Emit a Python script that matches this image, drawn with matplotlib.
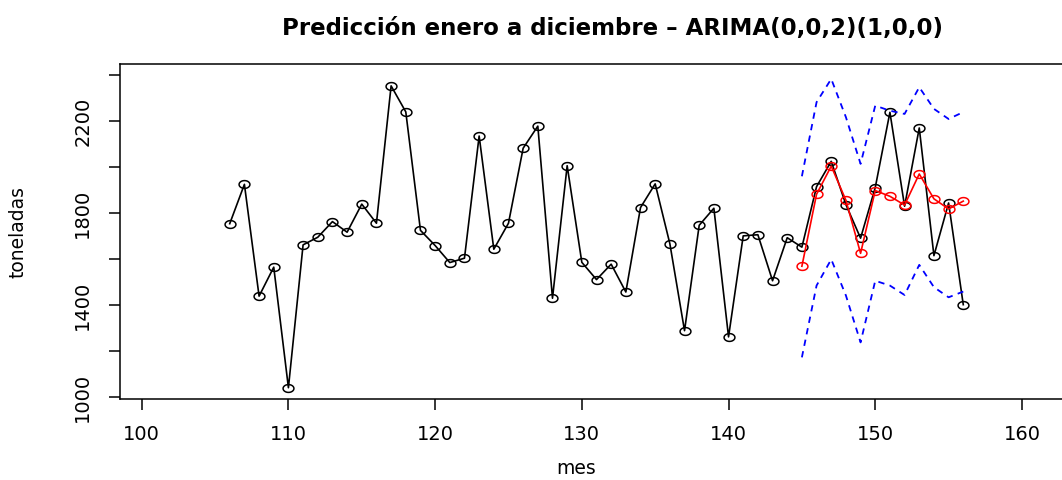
import numpy as np
import matplotlib
matplotlib.use("Agg")
import matplotlib.pyplot as plt
from matplotlib.path import Path

# Serie observada (mes 106 a 156)
mes = list(range(106, 157))
toneladas = [1752, 1923, 1437, 1563, 1039, 1660, 1693, 1761, 1715, 1837,
             1754, 2351, 2238, 1723, 1657, 1583, 1602, 2133, 1641, 1754,
             2080, 2176, 1428, 2004, 1584, 1509, 1576, 1455, 1822, 1925,
             1665, 1287, 1745, 1819, 1260, 1699, 1704, 1504, 1691, 1650,
             1913, 2023, 1835, 1689, 1909, 2236, 1828, 2168, 1613, 1842,
             1400]

# Prediccion enero a diciembre (mes 145 a 156)
mes_pred = list(range(145, 157))
pred = [1567, 1880, 2002, 1854, 1623, 1896, 1871, 1833, 1968, 1860, 1816, 1850]
lim_sup = [1958, 2280, 2381, 2215, 2012, 2265, 2243, 2229, 2345, 2251, 2207, 2237]
lim_inf = [1171, 1483, 1597, 1440, 1236, 1504, 1483, 1442, 1573, 1476, 1432, 1457]

x_ticks = [100, 110, 120, 130, 140, 150, 160]
y_ticks = [1000, 1200, 1400, 1600, 1800, 2000, 2200, 2400]
y_labels = ["1000", "", "1400", "", "1800", "", "2200", ""]

plt.rcParams['font.family'] = ['DejaVu Sans']

# circulo abierto algo ensanchado (como pch=1 en la imagen)
t = np.linspace(0, 2 * np.pi, 60)
ellipse = Path(np.column_stack([np.cos(t), 0.72 * np.sin(t)]), closed=True)

fig = plt.figure(figsize=(10.62, 4.81), dpi=100)
ax = fig.add_axes([120 / 1062, 81 / 481, 942 / 1062, 335 / 481])

ax.plot(mes, toneladas, color="black", lw=1.2, marker=ellipse, ms=7.8,
        mfc="none", mec="black", mew=1.1, zorder=3)
ax.plot(mes_pred, pred, color="red", lw=1.2, marker=ellipse, ms=7.8,
        mfc="none", mec="red", mew=1.1, zorder=4)
ax.plot(mes_pred, lim_sup, color="blue", lw=1.3, ls=(0, (3.5, 3)), zorder=5)
ax.plot(mes_pred, lim_inf, color="blue", lw=1.3, ls=(0, (3.5, 3)), zorder=5)

ax.set_xlim(98.52, 162.73)
ax.set_ylim(990, 2446)
ax.set_xticks(x_ticks)
ax.set_yticks(y_ticks)
ax.set_yticklabels(y_labels, rotation=90, va="center")
ax.tick_params(axis="both", length=8, width=1.1, labelsize=14, direction="out")
ax.tick_params(axis="x", pad=10)
ax.tick_params(axis="y", pad=12)
for s in ["left", "top", "bottom"]:
    ax.spines[s].set_linewidth(1.1)
ax.spines["right"].set_visible(False)

fig.text(613 / 1062, 1 - 28 / 481, "Predicción enero a diciembre – ARIMA(0,0,2)(1,0,0)",
         ha="center", va="center", fontsize=16.5, fontweight="bold")
fig.text(576 / 1062, 1 - 469 / 481, "mes", ha="center", va="center", fontsize=13.5)
fig.text(18 / 1062, 1 - 232 / 481, "toneladas", ha="center", va="center",
         rotation=90, fontsize=13.5)

fig.savefig("out.png", dpi=100)
